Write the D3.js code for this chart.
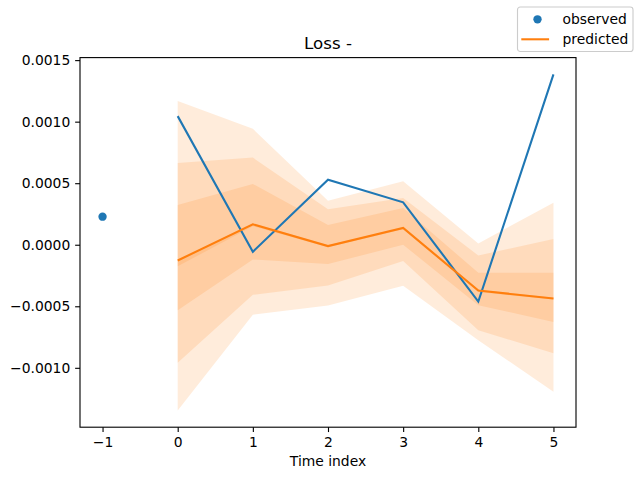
<!DOCTYPE html>
<html>
<head>
<meta charset="utf-8">
<script src="https://cdn.jsdelivr.net/npm/d3@7"></script>
<style>
  body { margin: 0; background: #fff; }
  svg text { font-family: "DejaVu Sans", sans-serif; fill: #000; }
</style>
</head>
<body>
<div id="chart"></div>
<script>
// data
var steps = [0, 1, 2, 3, 4, 5];
var observedPast = [{ t: -1, v: 0.000228 }];
var observed = [0.001045, -0.000057, 0.000529, 0.000345, -0.000462, 0.001384];
var predicted = [-0.000128, 0.000166, -0.000011, 0.000136, -0.000372, -0.000437];

// quantile bands, outer to inner
var outerLow = [-0.001346, -0.000568, -0.000494, -0.000334, -0.000776, -0.001194];
var outerHigh = [0.001167, 0.000942, 0.000358, 0.000516, 0.000011, 0.000342];
var midLow = [-0.000958, -0.000407, -0.000331, -0.000133, -0.000695, -0.000882];
var midHigh = [0.000665, 0.000708, 0.000288, 0.000380, -0.000087, 0.000046];
var innerLow = [-0.000532, -0.000120, -0.000157, 0.000000, -0.000491, -0.000627];
var innerHigh = [0.000323, 0.000494, 0.000160, 0.000299, -0.000228, -0.000228];
var coreLow = [-0.000175, 0.000150, -0.000020, 0.000125, -0.000385, -0.000445];
var coreHigh = [-0.000128, 0.000175, -0.000005, 0.000140, -0.000365, -0.000430];

var xTicks = [-1, 0, 1, 2, 3, 4, 5];
var yTicks = [-0.0010, -0.0005, 0.0000, 0.0005, 0.0010, 0.0015];

var W = 640, H = 480;
var margin = { top: 57.6, right: 64, bottom: 52.8, left: 80 },
  width = W - margin.left - margin.right,
  height = H - margin.top - margin.bottom;

var blue = "#1f77b4", orange = "#ff7f0e";

var svg = d3.select("#chart").append("svg")
  .attr("width", W)
  .attr("height", H);

var g = svg.append("g")
  .attr("transform", "translate(" + margin.left + "," + margin.top + ")");

var allVals = observed.concat(predicted, outerLow, outerHigh, observedPast.map(function(d) { return d.v; }));
var ext = d3.extent(allVals);
var pad = (ext[1] - ext[0]) * 0.05;

var x = d3.scaleLinear().domain([-1.3, 5.3]).range([0, width]);
var y = d3.scaleLinear().domain([ext[0] - pad, ext[1] + pad]).range([height, 0]);

var fmtMinus = function(s) { return s.replace("-", "\u2212"); };

// bands
var bands = [[outerLow, outerHigh], [midLow, midHigh], [innerLow, innerHigh], [coreLow, coreHigh]];
var area = d3.area()
  .x(function(d) { return x(d.t); })
  .y0(function(d) { return y(d.lo); })
  .y1(function(d) { return y(d.hi); });

bands.forEach(function(b) {
  var pts = steps.map(function(t, i) { return { t: t, lo: b[0][i], hi: b[1][i] }; });
  g.append("path")
    .datum(pts)
    .attr("d", area)
    .style("fill", orange)
    .style("fill-opacity", 0.15)
    .style("stroke", "none");
});

var line = d3.line()
  .x(function(d) { return x(d.t); })
  .y(function(d) { return y(d.v); });

g.append("path")
  .datum(steps.map(function(t, i) { return { t: t, v: observed[i] }; }))
  .attr("d", line)
  .style("fill", "none")
  .style("stroke", blue)
  .style("stroke-width", 2.08);

g.append("path")
  .datum(steps.map(function(t, i) { return { t: t, v: predicted[i] }; }))
  .attr("d", line)
  .style("fill", "none")
  .style("stroke", orange)
  .style("stroke-width", 2.08);

g.selectAll("circle.obs")
  .data(observedPast)
  .enter().append("circle")
  .attr("class", "obs")
  .attr("cx", function(d) { return x(d.t); })
  .attr("cy", function(d) { return y(d.v); })
  .attr("r", 4.17)
  .style("fill", blue);

// axes
var xAxis = d3.axisBottom(x)
  .tickValues(xTicks)
  .tickSize(4.86)
  .tickPadding(4.86)
  .tickFormat(function(d) { return fmtMinus(d3.format("d")(d)); });

var yAxis = d3.axisLeft(y)
  .tickValues(yTicks)
  .tickSize(4.86)
  .tickPadding(4.86)
  .tickFormat(function(d) { return fmtMinus(d3.format(".4f")(d)); });

var gx = g.append("g")
  .attr("transform", "translate(0," + height + ")")
  .call(xAxis);
var gy = g.append("g").call(yAxis);

[gx, gy].forEach(function(a) {
  a.select(".domain").remove();
  a.selectAll(".tick line").style("stroke", "#000").style("stroke-width", 1.11);
  a.selectAll(".tick text").style("font-size", "13.89px").style("font-family", "DejaVu Sans");
});

// frame
g.append("rect")
  .attr("width", width)
  .attr("height", height)
  .style("fill", "none")
  .style("stroke", "#000")
  .style("stroke-width", 1.11);

// titles
g.append("text")
  .attr("x", width / 2)
  .attr("y", -8.3)
  .style("text-anchor", "middle")
  .style("font-size", "16.67px")
  .text("Loss -");

g.append("text")
  .attr("x", width / 2)
  .attr("y", height + 39)
  .style("text-anchor", "middle")
  .style("font-size", "13.89px")
  .text("Time index");

// legend (figure, upper right)
var leg = svg.append("g").attr("transform", "translate(517.5,7)");
leg.append("rect")
  .attr("width", 115.5)
  .attr("height", 44.5)
  .attr("rx", 2.8)
  .style("fill", "#fff")
  .style("fill-opacity", 0.8)
  .style("stroke", "#cccccc")
  .style("stroke-width", 1.11);

leg.append("circle")
  .attr("cx", 20)
  .attr("cy", 12.3)
  .attr("r", 4.17)
  .style("fill", blue);
leg.append("line")
  .attr("x1", 3.8).attr("x2", 31.6)
  .attr("y1", 32.3).attr("y2", 32.3)
  .style("stroke", orange)
  .style("stroke-width", 2.08);

leg.append("text")
  .attr("x", 45)
  .attr("y", 17)
  .style("font-size", "13.89px")
  .text("observed");
leg.append("text")
  .attr("x", 45)
  .attr("y", 37)
  .style("font-size", "13.89px")
  .text("predicted");
</script>
</body>
</html>
